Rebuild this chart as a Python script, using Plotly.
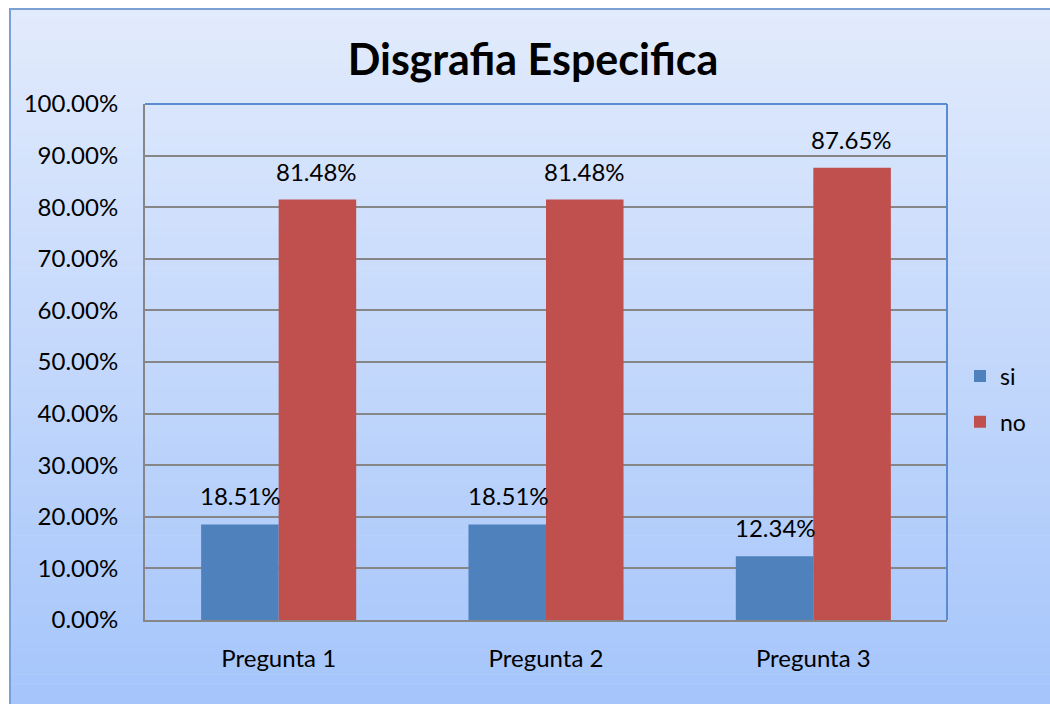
import plotly.graph_objects as go

preguntas = ['Pregunta 1', 'Pregunta 2', 'Pregunta 3']
si = [0.1851, 0.1851, 0.1234]
no = [0.8148, 0.8148, 0.8765]
y_ticks = [0, 0.1, 0.2, 0.3, 0.4, 0.5, 0.6, 0.7, 0.8, 0.9, 1.0]

W, H = 1050, 704
L, R, T, B = 145, 103, 104, 84
PW, PH = W - L - R, H - T - B
FONT = 'Lato, Calibri, sans-serif'


# page pixel -> paper coordinates
def px_x(p):
    return (p - L) / PW


def px_y(p):
    return (H - B - p) / PH


def grad(p):
    top = (226, 235, 252)
    bot = (165, 197, 251)
    f = (p - 8) / (H - 8)
    c = [round(a + (b - a) * f) for a, b in zip(top, bot)]
    return 'rgb(%d,%d,%d)' % tuple(c)


shapes = []
# chart background gradient
n = 70
step = (H - 9) / n
for i in range(n):
    y0 = 9 + i * step
    shapes.append(dict(type='rect', xref='paper', yref='paper', layer='below',
                       x0=px_x(10), x1=px_x(W + 10), y0=px_y(y0 + step + 0.6), y1=px_y(y0),
                       line=dict(width=0), fillcolor=grad(y0 + step / 2)))
# outer border (only top and left fall inside the picture)
shapes.append(dict(type='rect', xref='paper', yref='paper', layer='below',
                   x0=px_x(10), x1=px_x(W + 10), y0=px_y(H + 10), y1=px_y(9),
                   line=dict(color='#7BA0D6', width=2), fillcolor='rgba(0,0,0,0)'))
# plot area top / right border
shapes.append(dict(type='line', xref='paper', yref='paper', x0=0, x1=1, y0=1, y1=1,
                   line=dict(color='#5B8BD0', width=2)))
shapes.append(dict(type='line', xref='paper', yref='paper', x0=1, x1=1, y0=0, y1=1,
                   line=dict(color='#5B8BD0', width=2)))

fig = go.Figure()
fig.add_trace(go.Bar(x=preguntas, y=si, name='si', legendgroup='si',
                     marker=dict(color='#4F81BD', line=dict(width=0))))
fig.add_trace(go.Bar(x=preguntas, y=no, name='no', legendgroup='no',
                     marker=dict(color='#C0504D', line=dict(width=0))))

annotations = []
for cat, v in zip(preguntas, si):
    annotations.append(dict(x=cat, y=v, xref='x', yref='y', text='%.2f%%' % (v * 100),
                            showarrow=False, xshift=-38, yshift=12, yanchor='bottom',
                            font=dict(size=24, color='#000000', family=FONT)))
for cat, v in zip(preguntas, no):
    annotations.append(dict(x=cat, y=v, xref='x', yref='y', text='%.2f%%' % (v * 100),
                            showarrow=False, xshift=38, yshift=12, yanchor='bottom',
                            font=dict(size=24, color='#000000', family=FONT)))

fig.update_layout(
    width=W, height=H,
    margin=dict(l=L, r=R, t=T, b=B, pad=0),
    paper_bgcolor='white',
    plot_bgcolor='rgba(0,0,0,0)',
    font=dict(family=FONT, size=24, color='#000000'),
    title=dict(text='<b>Disgrafia Especifica</b>', x=533 / W, xanchor='center',
               y=1 - 60 / H, yanchor='middle', font=dict(size=43, family=FONT)),
    barmode='group', bargap=0.42, bargroupgap=0,
    shapes=shapes,
    annotations=annotations,
    legend=dict(x=px_x(960), xanchor='left', y=px_y(399), yanchor='middle',
                bgcolor='rgba(0,0,0,0)', tracegroupgap=13,
                font=dict(size=23, family=FONT)),
    xaxis=dict(showgrid=False, showline=True, linecolor='#868686', linewidth=2,
               ticks='', ticklabelstandoff=16, tickfont=dict(size=24)),
    yaxis=dict(range=[0, 1], tickvals=y_ticks, tickformat='.2%',
               showgrid=True, gridcolor='#868686', gridwidth=2,
               showline=True, linecolor='#868686', linewidth=2,
               zeroline=False, ticks='', ticklabelstandoff=20, tickfont=dict(size=24)),
)

# drop the page's default body margin so the figure sits at the window's corner
fig.write_html('out.html', config={'displayModeBar': False},
               post_script="document.body.style.margin='0';document.body.style.overflow='hidden';")
